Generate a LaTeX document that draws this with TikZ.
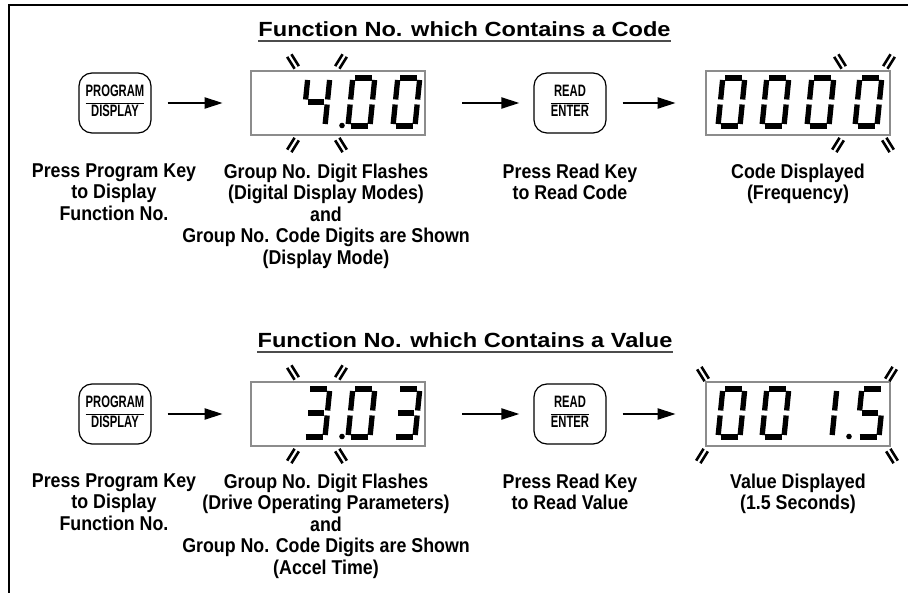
\documentclass[tikz,border=0pt]{standalone}
\usepackage{fontspec}
\setmainfont{Liberation Sans}
\newfontfamily\keyfont[FakeStretch=0.68]{Liberation Sans}
\newfontfamily\capfont[FakeStretch=0.89]{Liberation Sans}
\newfontfamily\titlefont[FakeStretch=1.15]{Liberation Sans}
\usetikzlibrary{arrows.meta}
\setlength{\arrayrulewidth}{0.8pt}

\def\sega{\draw[lcdseg] (2.5,-48) -- (19.5,-48);}
\def\segb{\draw[lcdseg] (22,-46) -- (22,-26.5);}
\def\segc{\draw[lcdseg] (22,-21.5) -- (22,-2);}
\def\segd{\draw[lcdseg] (2.5,0) -- (19.5,0);}
\def\sege{\draw[lcdseg] (0,-2) -- (0,-21.5);}
\def\segf{\draw[lcdseg] (0,-26.5) -- (0,-46);}
\def\segg{\draw[lcdseg] (3,-24) -- (19,-24);}
\newcommand\lcddigit[3]{\begin{scope}[shift={(#1,#2)},xslant=0.1]
	\foreach \s in {#3}{\csname seg\s\endcsname}
	\end{scope}}

\tikzset{
	lcdseg/.style={line width=5.3pt},
	keybox/.style={draw, line width=1.2pt, rounded corners=13pt, minimum width=72pt, minimum height=60pt, inner sep=0pt, font=\keyfont\bfseries\fontsize{16.5}{19}\selectfont},
	lcdbox/.style={draw=black!85, double=black!45, double distance=1.2pt, line width=0.7pt, minimum width=174pt, minimum height=64pt, inner sep=0pt},
	steparrow/.style={line width=2pt, -{Triangle[length=18pt,width=11pt]}},
	caption/.style={align=center, anchor=north, inner sep=0pt, font=\capfont\bfseries\fontsize{20}{21.5}\selectfont},
	heading/.style={anchor=base, inner sep=0pt, font=\titlefont\bfseries\fontsize{20.5}{24}\selectfont},
	flashline/.style={line width=2.6pt},
	flashmark/.pic={\draw[flashline] (-2.5,-7) -- (-2.5,7) (2.5,-7) -- (2.5,7);}
}

\begin{document}
\begin{tikzpicture}[x=1pt, y=-1pt]
			%%%%% START %%%%%
			\useasboundingbox (0,0) rectangle (908,593);
			\draw[line width=2.5pt] (908,5) -- (9,5) -- (9,593);
			
			% code row
			\node[heading] (head1) at (464.5,37) {Function No. which Contains a Code};
			\draw[line width=1.4pt, black!70] ([yshift=-4pt]head1.base west) -- ([yshift=-4pt]head1.base east);
			
			\node[keybox] (prog1) at (115,103) {\begin{tabular}{@{}c@{}}PROGRAM\\\hline DISPLAY\end{tabular}};
			\node[lcdbox] (grp1) at (338,103) {};
			\node[keybox] (read1) at (570,103) {\begin{tabular}{@{}c@{}}READ\\\hline ENTER\end{tabular}};
			\node[lcdbox, minimum width=184pt] (code1) at (798,103) {};
			
			\draw[steparrow, shorten <=16pt, shorten >=28pt] (prog1) -- (grp1);
			\draw[steparrow, shorten <=37pt, shorten >=14pt] (grp1) -- (read1);
			\draw[steparrow, shorten <=16pt, shorten >=30pt] (read1) -- (code1);
			
			\lcddigit{303}{126}{b,c,f,g}
			\fill (342,125.5) circle (2.8);
			\lcddigit{348}{126}{a,b,c,d,e,f}
			\lcddigit{393}{126}{a,b,c,d,e,f}
			\foreach \x in {718,762,807,855} {\lcddigit{\x}{126}{a,b,c,d,e,f}}
			
			\pic[rotate=32] at (293,61.5) {flashmark};
			\pic[rotate=-32] at (341,61.5) {flashmark};
			\pic[rotate=-32] at (293,145) {flashmark};
			\pic[rotate=32] at (341,145) {flashmark};
			\pic[rotate=32] at (840,61.5) {flashmark};
			\pic[rotate=-32] at (889,61.5) {flashmark};
			\pic[rotate=-32] at (838,145) {flashmark};
			\pic[rotate=32] at (888,145) {flashmark};
			
			\node[caption] (lprog1) at (114,163.5) {Press Program Key\\to Display\\Function No.};
			\node[caption] (lgrp1) at (326,163.5) {Group No. Digit Flashes\\(Digital Display Modes)\\and\\Group No. Code Digits are Shown\\(Display Mode)};
			\node[caption] (lread1) at (570,163.5) {Press Read Key\\to Read Code};
			\node[caption] (lcode1) at (798,163.5) {Code Displayed\\(Frequency)};
			
			% value row
			\node[heading] (head2) at (465,348) {Function No. which Contains a Value};
			\draw[line width=1.4pt, black!70] ([yshift=-4pt]head2.base west) -- ([yshift=-4pt]head2.base east);
			
			\node[keybox] (prog2) at (115,414) {\begin{tabular}{@{}c@{}}PROGRAM\\\hline DISPLAY\end{tabular}};
			\node[lcdbox] (grp2) at (338,414) {};
			\node[keybox] (read2) at (570,414) {\begin{tabular}{@{}c@{}}READ\\\hline ENTER\end{tabular}};
			\node[lcdbox, minimum width=184pt] (val2) at (798,414) {};
			
			\draw[steparrow, shorten <=16pt, shorten >=28pt] (prog2) -- (grp2);
			\draw[steparrow, shorten <=37pt, shorten >=14pt] (grp2) -- (read2);
			\draw[steparrow, shorten <=16pt, shorten >=30pt] (read2) -- (val2);
			
			\lcddigit{303}{437}{a,b,c,d,g}
			\fill (342,436.5) circle (2.8);
			\lcddigit{348}{437}{a,b,c,d,e,f}
			\lcddigit{393}{437}{a,b,c,d,g}
			\lcddigit{718}{437}{a,b,c,d,e,f}
			\lcddigit{762}{437}{a,b,c,d,e,f}
			\lcddigit{810}{437}{b,c}
			\fill (849,436.5) circle (2.8);
			\lcddigit{857}{437}{a,c,d,f,g}
			
			\pic[rotate=32] at (293,372.5) {flashmark};
			\pic[rotate=-32] at (341,372.5) {flashmark};
			\pic[rotate=-32] at (293,456) {flashmark};
			\pic[rotate=32] at (341,456) {flashmark};
			\pic[rotate=32] at (703,374) {flashmark};
			\pic[rotate=-32] at (891,374) {flashmark};
			\pic[rotate=-32] at (702,456) {flashmark};
			\pic[rotate=32] at (892,456) {flashmark};
			
			\node[caption] (lprog2) at (114,473.5) {Press Program Key\\to Display\\Function No.};
			\node[caption] (lgrp2) at (326,473.5) {Group No. Digit Flashes\\(Drive Operating Parameters)\\and\\Group No. Code Digits are Shown\\(Accel Time)};
			\node[caption] (lread2) at (570,473.5) {Press Read Key\\to Read Value};
			\node[caption] (lval2) at (798,473.5) {Value Displayed\\(1.5 Seconds)};
			
			%%%%% END %%%%%
		\end{tikzpicture}
\end{document}
